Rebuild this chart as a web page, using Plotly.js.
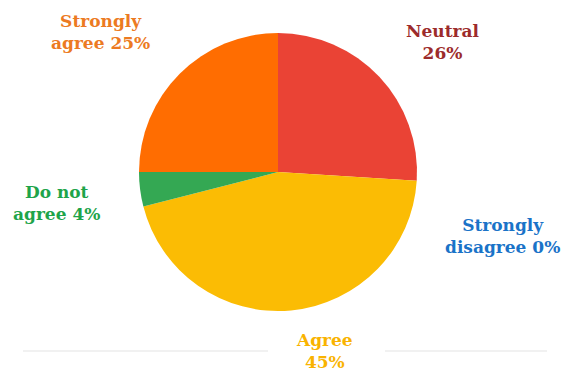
<!DOCTYPE html>
<html>
<head>
<meta charset="utf-8">
<script src="https://cdn.plot.ly/plotly-3.0.1.min.js"></script>
<style>html,body{margin:0;padding:0;background:#fff;}#chart{width:561px;height:377px;}</style>
</head>
<body>
<div id="chart"></div>
<script>
var categories = ["Neutral", "Strongly disagree", "Agree", "Do not agree", "Strongly agree"];
var values = [26, 0, 45, 4, 25];
var labelLines = ["Neutral<br>", "Strongly<br>disagree ", "Agree<br>", "Do not<br>agree ", "Strongly<br>agree "];
var sliceColors = ["#EA4335", "#4285F4", "#FBBC04", "#34A853", "#FF6D01"];
var textColors = ["#9C2B2B", "#1A73C8", "#F9B300", "#1EA44A", "#EC7A22"];
var labelPos = [[443, 42], [502, 236], [324, 351], [56, 203], [100, 32]];

var W = 561, H = 377;
var cx = 278, cy = 172, r = 139;
var serifFont = "DejaVu Serif";

var trace = {
  type: "pie",
  labels: categories,
  values: values,
  sort: false,
  direction: "clockwise",
  rotation: 0,
  textinfo: "none",
  hoverinfo: "label+percent",
  marker: {colors: sliceColors, line: {width: 0}},
  showlegend: false,
  domain: {x: [(cx - r) / W, (cx + r) / W], y: [1 - (cy + r) / H, 1 - (cy - r) / H]}
};

var annotations = categories.map(function (c, i) {
  return {
    xref: "paper", yref: "paper",
    x: labelPos[i][0] / W, y: 1 - labelPos[i][1] / H,
    xanchor: "center", yanchor: "middle",
    text: "<b>" + labelLines[i] + values[i] + "%</b>",
    showarrow: false,
    align: "center",
    font: {family: serifFont, size: 17, color: textColors[i]}
  };
});

var layout = {
  width: W, height: H,
  margin: {l: 0, r: 0, t: 0, b: 0},
  paper_bgcolor: "#ffffff",
  font: {family: serifFont},
  annotations: annotations,
  shapes: [
    {type: "line", xref: "paper", yref: "paper", x0: 23 / W, x1: 268 / W, y0: 1 - 351 / H, y1: 1 - 351 / H, line: {color: "#ececec", width: 1.5}},
    {type: "line", xref: "paper", yref: "paper", x0: 385 / W, x1: 547 / W, y0: 1 - 351 / H, y1: 1 - 351 / H, line: {color: "#ececec", width: 1.5}}
  ]
};

Plotly.newPlot("chart", [trace], layout, {displayModeBar: false, staticPlot: true});
</script>
</body>
</html>
